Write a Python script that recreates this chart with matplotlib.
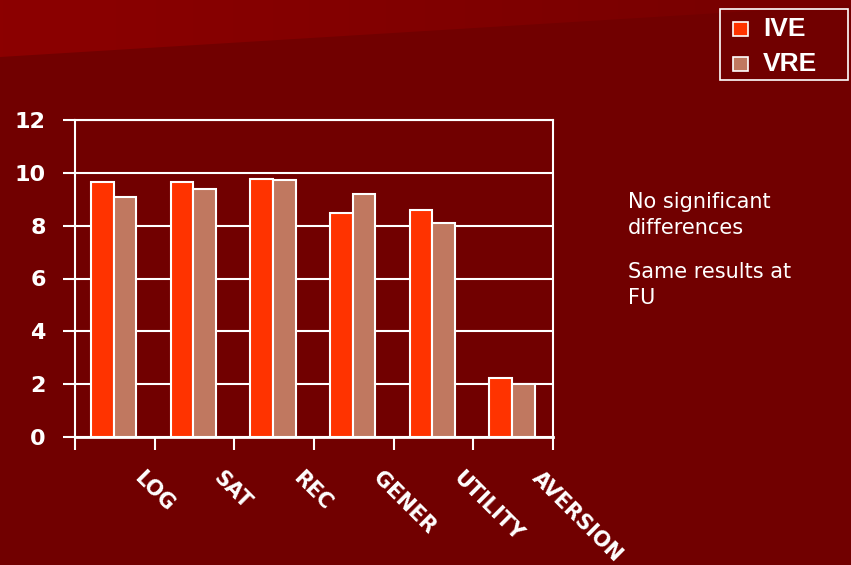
import numpy as np
import matplotlib.pyplot as plt
from matplotlib.patches import Polygon, Rectangle

categories = ['LOG', 'SAT', 'REC', 'GENER', 'UTILITY', 'AVERSION']
ive = [9.66, 9.66, 9.77, 8.48, 8.6, 2.23]
vre = [9.09, 9.39, 9.73, 9.2, 8.1, 2.0]
yticks = [0, 2, 4, 6, 8, 10, 12]

bg = '#710000'
c_ive = '#ff3300'
c_vre = '#c07860'

fig = plt.figure(figsize=(8.51, 5.65), dpi=100, facecolor=bg)

# background with lighter wedge at the top left
bax = fig.add_axes([0, 0, 1, 1])
bax.set_xlim(0, 851)
bax.set_ylim(565, 0)
bax.axis('off')
grad = np.linspace(0, 1, 256).reshape(1, -1)
img = bax.imshow(grad, extent=[0, 851, 60, 0], aspect='auto',
                 cmap=plt.matplotlib.colors.LinearSegmentedColormap.from_list('w', ['#8c0000', '#760000']))
wedge = Polygon([[0, 0], [851, 0], [851, 5], [0, 57]], closed=True, transform=bax.transData)
img.set_clip_path(wedge)

ax = fig.add_axes([75 / 851, 1 - 437 / 565, 478 / 851, 317 / 565])
ax.set_facecolor(bg)
x = np.arange(len(categories))
w = 0.285
ax.bar(x + 0.2, ive, w, align='edge', color=c_ive, edgecolor='white', lw=1.5, zorder=3)
ax.bar(x + 0.2 + w, vre, w, align='edge', color=c_vre, edgecolor='white', lw=1.5, zorder=3)
ax.set_xlim(0, len(categories))
ax.set_ylim(0, 12)
ax.set_yticks(yticks)
ax.set_yticklabels([str(v) for v in yticks], color='white', fontsize=16,
                   fontweight='bold', family='DejaVu Sans')
ax.yaxis.grid(True, color='white', lw=1.5, zorder=0)
ax.set_xticks(np.append(x, len(categories)))
ax.set_xticklabels([])
ax.tick_params(axis='both', colors='white', width=1.5, length=9, direction='out')
ax.tick_params(axis='y', pad=12)
for s in ax.spines.values():
    s.set_color('white')
    s.set_linewidth(1.5)
ax.spines['bottom'].set_linewidth(2)

for i, lab in enumerate(categories):
    ax.text(i + 0.87, -1.15, lab, rotation=-45, rotation_mode='anchor', ha='left', va='top',
            color='white', fontsize=15, fontweight='bold',
            family=['Liberation Sans Narrow', 'DejaVu Sans'], clip_on=False)

# legend box
fig.patches.append(Rectangle((720 / 851, 1 - 80 / 565), 128 / 851, 71 / 565,
                             transform=fig.transFigure, fill=False, ec='white', lw=1.2))
for yy, col, lab in [(29, c_ive, 'IVE'), (64, c_vre, 'VRE')]:
    fig.patches.append(Rectangle((733 / 851, 1 - (yy + 7) / 565), 15 / 851, 14 / 565,
                                 transform=fig.transFigure, fc=col, ec='white', lw=1.2))
    fig.text(763 / 851, 1 - yy / 565, lab, color='white', fontsize=19, fontweight='bold',
             family='Liberation Sans', va='center', ha='left')

fig.text(628 / 851, 1 - 192 / 565, 'No significant\ndifferences', color='white', fontsize=15,
         va='top', ha='left', linespacing=1.4)
fig.text(628 / 851, 1 - 262 / 565, 'Same results at\nFU', color='white', fontsize=15,
         va='top', ha='left', linespacing=1.4)

fig.savefig('out.png', dpi=100, facecolor=bg)
